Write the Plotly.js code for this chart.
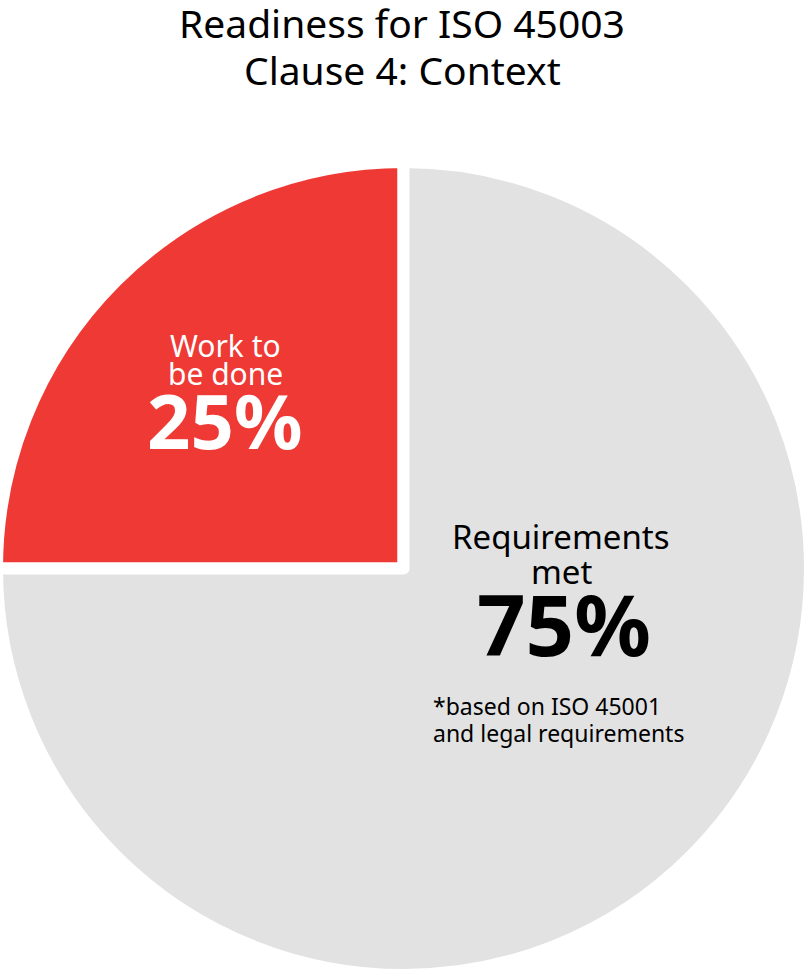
<!DOCTYPE html>
<html>
<head>
<meta charset="utf-8">
<script src="https://cdn.plot.ly/plotly-3.0.1.min.js"></script>
<style>
html,body{margin:0;padding:0;background:#fff;overflow:hidden;width:807px;height:972px;}
#chart{position:absolute;left:-6px;top:0;width:819px;height:980px;}
</style>
</head>
<body>
<div id="chart"></div>
<script>
const categories = ["Work to be done", "Requirements met"];
const values = [25, 75];
const colors = ["#EF3935", "#E2E2E2"];
const titleLines = ["Readiness for ISO 45003", "Clause 4: Context"];
const workLines = ["Work to", "be done"];
const metLines = ["Requirements", "met"];
const noteLines = ["*based on ISO 45001", "and legal requirements"];

const W = 819, H = 980, L = 0, T = 162, PW = 819, PH = 813, OFF = 6;
function px(x){ return (x + OFF - L) / PW; }
function py(y){ return 1 - (y - T) / PH; }
const FONT = "Noto Sans, Open Sans, sans-serif";

function ann(text, x, y, size, color, bold, xanchor){
  return {text: bold ? "<b>"+text+"</b>" : text, x: px(x), y: py(y), xref:"paper", yref:"paper",
    xanchor: xanchor || "center", yanchor:"middle", showarrow:false,
    font:{family:FONT, size:size, color:color}};
}

const pct = values.map(v => v + "%");
const annotations = [
  ann(titleLines[0], 402, 22, 39, "#000000", false),
  ann(titleLines[1], 402, 69, 39, "#000000", false),
  ann(workLines[0], 225, 345, 30, "#ffffff", false),
  ann(workLines[1], 225, 373, 30, "#ffffff", false),
  ann(pct[0], 225, 420, 76, "#ffffff", true),
  ann(metLines[0], 561, 536, 33, "#000000", false),
  ann(metLines[1], 561, 571, 33, "#000000", false),
  ann(pct[1], 564, 623, 85, "#000000", true),
  ann(noteLines[0], 431, 706, 23, "#000000", false, "left"),
  ann(noteLines[1], 431, 733, 23, "#000000", false, "left")
];

Plotly.newPlot("chart", [{
  type:"pie",
  labels: categories,
  values: values,
  sort:false,
  direction:"counterclockwise",
  rotation:-90,
  textinfo:"none",
  hoverinfo:"label+percent",
  marker:{colors: colors, line:{color:"#ffffff", width:12}},
  showlegend:false
}], {
  width: W, height: H,
  margin:{l:L, r:W-L-PW, t:T, b:H-T-PH, pad:0},
  paper_bgcolor:"#ffffff",
  annotations: annotations,
  showlegend:false
}, {displayModeBar:false, staticPlot:true});
</script>
</body>
</html>
